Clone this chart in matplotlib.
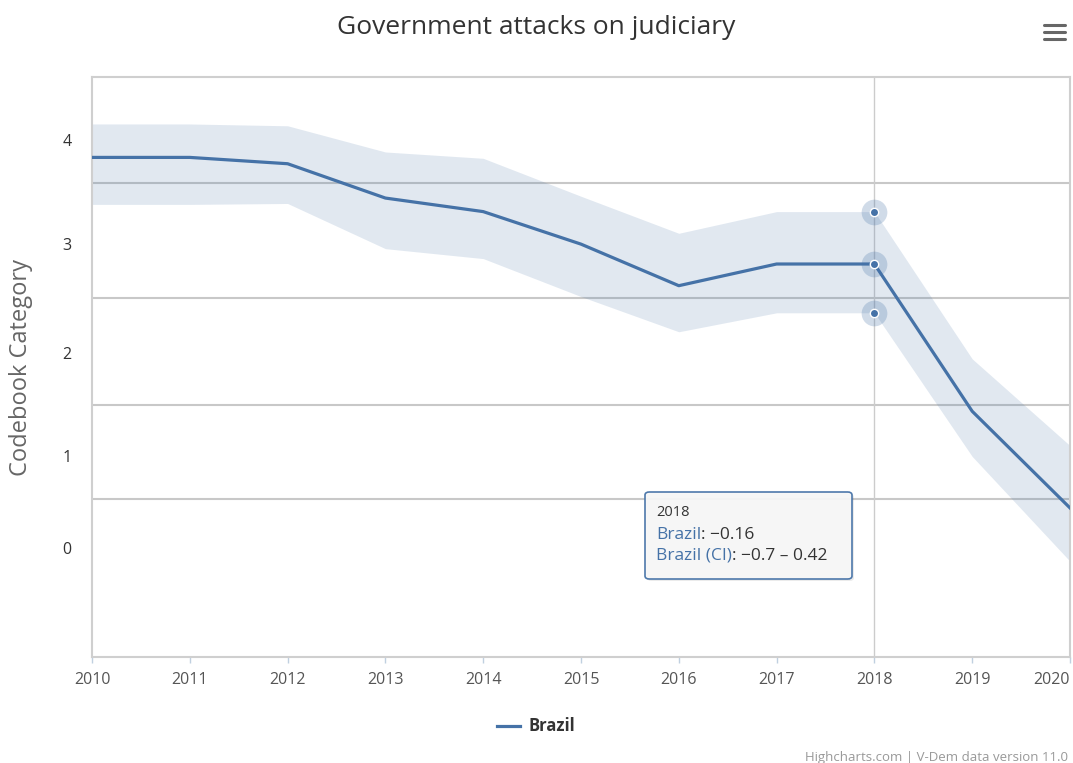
import matplotlib
matplotlib.use("Agg")
import matplotlib.pyplot as plt
from matplotlib.patches import FancyBboxPatch
from matplotlib.lines import Line2D

# ---- data -------------------------------------------------------------
years = [2010, 2011, 2012, 2013, 2014, 2015, 2016, 2017, 2018, 2019, 2020]
estimate = [1.02, 1.02, 0.95, 0.57, 0.42, 0.06, -0.40, -0.16, -0.16, -1.79, -2.86]
ci_high = [1.39, 1.39, 1.37, 1.08, 1.01, 0.59, 0.18, 0.42, 0.42, -1.21, -2.17]
ci_low = [0.50, 0.50, 0.51, 0.01, -0.10, -0.52, -0.91, -0.70, -0.70, -2.29, -3.45]

category_labels = ["4", "3", "2", "1", "0"]
category_centers = [1.21, 0.06, -1.14, -2.28, -3.30]
category_cutoffs = [0.74, -0.54, -1.72, -2.76]

country = "Brazil"
highlight_year = 2018
title = "Government attacks on judiciary"
y_title = "Codebook Category"
credits = "Highcharts.com | V-Dem data version 11.0"

# ---- style ------------------------------------------------------------
W, H = 1073, 763
LINE = "#4572a7"
FONT = ["Open Sans", "DejaVu Sans"]
plt.rcParams["font.family"] = FONT


def fx(x):
    return x / W


def fy(y):
    return 1 - y / H


fig = plt.figure(figsize=(W / 100, H / 100), dpi=100)
fig.patch.set_facecolor("white")

left, right, top, bottom = 92, 1070, 77, 657
ax = fig.add_axes([fx(left), fy(bottom), fx(right - left), (bottom - top) / H])
ax.set_xlim(years[0], years[-1])
ax.set_ylim(-4.51, 1.91)

# category boundaries
for c in category_cutoffs:
    ax.axhline(c, color="#c8c8c8", lw=1.5, zorder=1)

# highlight crosshair
ax.axvline(highlight_year, color="#cccccc", lw=1.0, zorder=1.5)

# confidence band and estimate line
ax.fill_between(years, ci_low, ci_high, color=LINE, alpha=0.16, lw=0, zorder=2)
ax.plot(years, estimate, color=LINE, lw=2.3, zorder=3, solid_joinstyle="round")

# highlighted points for the hovered year
hi = years.index(highlight_year)
for v in (ci_high[hi], estimate[hi], ci_low[hi]):
    ax.plot([highlight_year], [v], "o", ms=18.5, color=LINE, alpha=0.25, mew=0, zorder=4)
    ax.plot([highlight_year], [v], "o", ms=6, mfc=LINE, mec="white", mew=1.0, zorder=5)

# axes styling
for s in ax.spines.values():
    s.set_color("#cfcfcf")
    s.set_linewidth(1.5)
ax.set_xticks(years)
ax.set_xticklabels([str(y) for y in years])
ax.tick_params(axis="x", direction="out", length=4, width=1, color="#c0d0e0",
               labelsize=11.5, labelcolor="#555555", pad=7)
ax.get_xticklabels()[-1].set_horizontalalignment("right")
ax.set_yticks(category_centers)
ax.set_yticklabels(category_labels)
ax.tick_params(axis="y", length=0, labelsize=11.5, labelcolor="#333333", pad=18)
for lab in ax.get_yticklabels():
    lab.set_horizontalalignment("center")
ax.set_ylabel(y_title, fontsize=17, color="#666666")
ax.yaxis.set_label_coords((33 - left) / (right - left), 0.5)

# title
fig.text(fx(536), fy(27), title, ha="center", va="center", fontsize=19, color="#333333")

# export menu icon
for yy in (24.5, 31.5, 38.5):
    fig.add_artist(Line2D([fx(1044), fx(1065)], [fy(yy), fy(yy)], color="#666666",
                          lw=2.2, solid_capstyle="round"))

# legend
fig.add_artist(Line2D([fx(497), fx(520)], [fy(726), fy(726)], color=LINE, lw=2.3))
fig.text(fx(528), fy(726), country, ha="left", va="center", fontsize=12,
         fontweight="bold", color="#333333")

# credits
fig.text(fx(1068), fy(757), credits, ha="right", va="center", fontsize=9.5, color="#999999")

# tooltip
bx0, by0, bx1, by1 = 645, 492, 852, 579
shadow = FancyBboxPatch((fx(bx0 + 2), fy(by1 + 2)), fx(bx1 - bx0), (by1 - by0) / H,
                        boxstyle="round,pad=0,rounding_size=0.004", transform=fig.transFigure,
                        fc="#000000", ec="none", alpha=0.08, zorder=9)
box = FancyBboxPatch((fx(bx0), fy(by1)), fx(bx1 - bx0), (by1 - by0) / H,
                     boxstyle="round,pad=0,rounding_size=0.004", transform=fig.transFigure,
                     fc="#f7f7f7", ec=LINE, lw=1.2, alpha=0.95, zorder=10)
fig.add_artist(shadow)
fig.add_artist(box)

fig.text(fx(656), fy(513), str(highlight_year), ha="left", va="center", fontsize=10.5,
         color="#333333", zorder=11)

renderer = fig.canvas.get_renderer()


def two_tone(x, y, first, second, size):
    t = fig.text(fx(x), fy(y), first, ha="left", va="center", fontsize=size,
                 color=LINE, zorder=11)
    bb = t.get_window_extent(renderer=renderer)
    fig.text(bb.x1 / W, fy(y), second, ha="left", va="center", fontsize=size,
             color="#333333", zorder=11)


def fmt(v):
    return f"{v:g}".replace("-", "\u2212")


two_tone(656, 535, country, f": {fmt(estimate[hi])}", 12.5)
two_tone(656, 556, f"{country} (CI)", f": {fmt(ci_low[hi])} \u2013 {fmt(ci_high[hi])}", 12.5)

fig.savefig("out.png", dpi=100)
